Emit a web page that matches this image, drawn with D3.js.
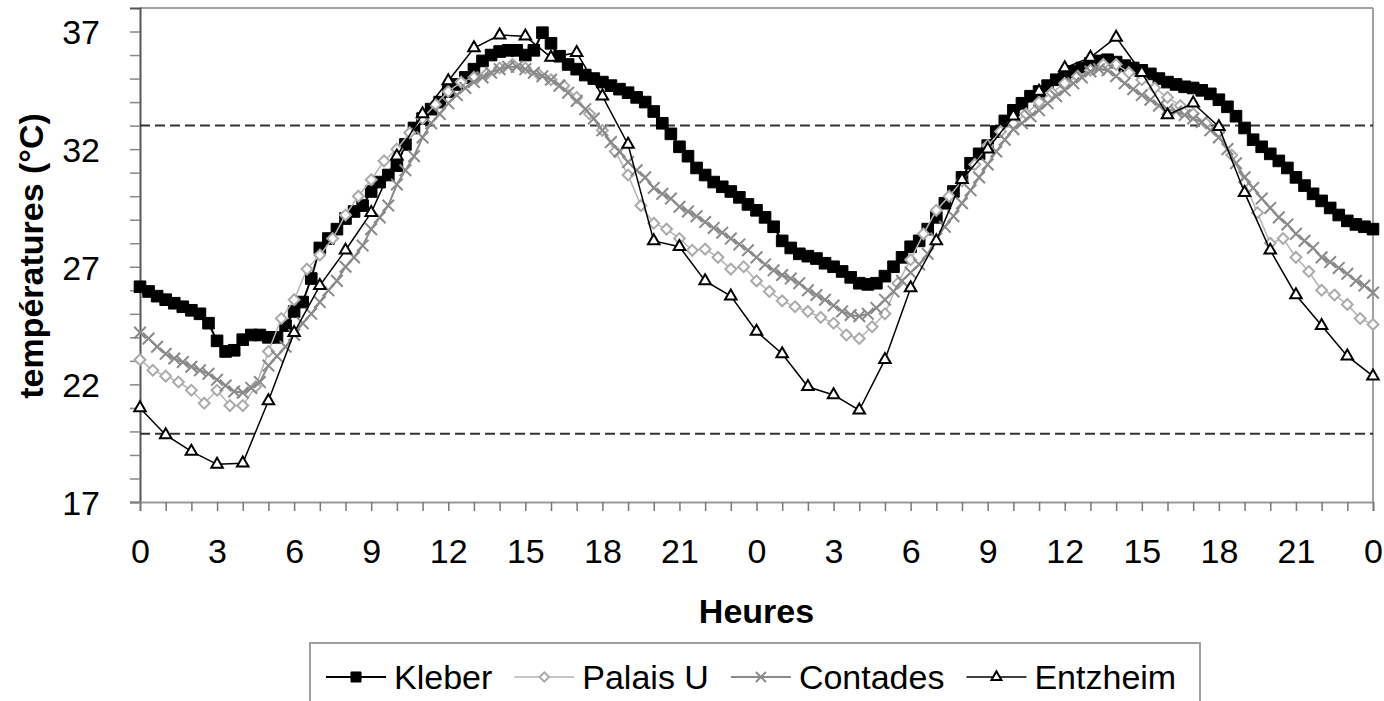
<!DOCTYPE html>
<html>
<head>
<meta charset="utf-8">
<script src="https://cdn.jsdelivr.net/npm/d3@7"></script>
<style>
  body { margin: 0; background: #fff; }
  svg text { font-family: "Liberation Sans", Arial, sans-serif; fill: #000; }
</style>
</head>
<body>
<div id="chart"></div>
<script>
//data - Kleber & Contades every 20 min, Palais U every 30 min, Entzheim hourly
const kleber = [
  26.15, 25.95, 25.75, 25.6, 25.45, 25.3, 25.15, 25.0, 24.6, 23.85, 23.4, 23.45,
  23.9, 24.1, 24.1, 24.0, 24.0, 24.5, 25.1, 25.5, 26.5, 27.8, 28.2, 28.6,
  29.05, 29.35, 29.6, 30.2, 30.6, 30.9, 31.3, 32.2, 32.9, 33.3, 33.7, 34.0,
  34.45, 34.75, 35.05, 35.4, 35.75, 36.0, 36.15, 36.2, 36.2, 36.0, 36.2, 36.95,
  36.5, 35.95, 35.6, 35.4, 35.15, 35.0, 34.85, 34.7, 34.55, 34.4, 34.2, 34.0,
  33.6, 33.1, 32.65, 32.1, 31.7, 31.2, 30.9, 30.6, 30.4, 30.2, 29.95, 29.65,
  29.4, 29.1, 28.7, 28.1, 27.8, 27.55, 27.45, 27.35, 27.15, 27.0, 26.8, 26.55,
  26.3, 26.25, 26.3, 26.6, 27.0, 27.4, 27.85, 28.1, 28.6, 29.1, 29.7, 30.2,
  30.8, 31.4, 31.8, 32.15, 32.75, 33.2, 33.65, 33.95, 34.25, 34.45, 34.7, 34.95,
  35.1, 35.3, 35.45, 35.65, 35.75, 35.8, 35.7, 35.55, 35.45, 35.35, 35.2, 35.0,
  34.85, 34.75, 34.65, 34.6, 34.5, 34.35, 34.1, 33.8, 33.4, 32.9, 32.4, 32.1,
  31.8, 31.5, 31.2, 30.8, 30.45, 30.1, 29.8, 29.5, 29.2, 28.95, 28.8, 28.7,
  28.6
];
const palaisU = [
  23.05, 22.6, 22.35, 22.1, 21.75, 21.2, 21.75, 21.1, 21.1, 21.9, 23.4, 24.8,
  25.6, 26.9, 27.5, 28.2, 29.2, 30.0, 30.7, 31.5, 32.0, 32.7, 33.3, 33.9,
  34.45, 34.85, 35.05, 35.2, 35.45, 35.6, 35.45, 35.2, 34.95, 34.7, 34.2, 33.5,
  32.8, 31.9, 30.9, 29.6, 28.85, 28.6, 28.2, 27.7, 27.75, 27.4, 26.9, 27.0,
  26.4, 25.95, 25.55, 25.3, 25.1, 24.85, 24.6, 24.1, 23.95, 24.45, 25.0, 26.3,
  27.3, 28.4, 29.4, 30.0, 30.65, 31.35, 32.15, 32.75, 33.1, 33.5, 34.0, 34.4,
  34.8, 35.1, 35.35, 35.6, 35.6, 35.25, 34.95, 34.6, 34.2, 33.85, 33.5, 33.1,
  32.75, 31.75, 30.6, 29.3, 28.0, 28.2, 27.4, 26.8, 26.0, 25.8, 25.4, 24.8,
  24.55
];
const contades = [
  24.2, 23.95, 23.6, 23.3, 23.1, 22.95, 22.75, 22.6, 22.45, 22.2, 21.95, 21.7,
  21.65, 21.85, 22.1, 22.8, 23.2, 23.6, 24.1, 24.6, 25.0, 25.5, 26.0, 26.4,
  27.0, 27.4, 27.9, 28.6, 29.1, 29.6, 30.5, 31.1, 31.7, 32.5, 33.1, 33.5,
  33.95, 34.3, 34.6, 34.85, 35.05, 35.25, 35.4, 35.5, 35.5, 35.4, 35.25, 35.1,
  34.95, 34.7, 34.4, 34.05, 33.7, 33.3, 32.8, 32.3, 31.9, 31.45, 31.1, 30.8,
  30.35, 30.1, 29.9, 29.55, 29.35, 29.15, 28.9, 28.65, 28.45, 28.2, 27.95, 27.7,
  27.4, 27.1, 26.85, 26.65, 26.5, 26.3, 26.0, 25.8, 25.6, 25.35, 25.1, 24.95,
  24.9, 25.0, 25.25, 25.6, 25.95, 26.4, 26.75, 27.1, 27.55, 28.2, 28.7, 29.15,
  29.7, 30.25, 30.8, 31.35, 31.9, 32.4, 32.85, 33.1, 33.4, 33.65, 33.95, 34.25,
  34.5, 34.8, 35.05, 35.3, 35.4, 35.35, 35.1, 34.8, 34.55, 34.3, 34.1, 33.85,
  33.7, 33.6, 33.45, 33.3, 33.15, 32.8, 32.5, 32.0, 31.4, 30.8, 30.35, 29.9,
  29.5, 29.1, 28.8, 28.4, 28.1, 27.8, 27.4, 27.2, 26.95, 26.7, 26.4, 26.2,
  25.9
];
const entzheim = [
  21.0, 19.85, 19.15, 18.6, 18.65, 21.3, 24.2, 26.2, 27.7, 29.3, 31.7, 33.5,
  34.9, 36.3, 36.85, 36.8, 35.9, 36.1, 34.25, 32.2, 28.1, 27.85, 26.4, 25.75,
  24.25, 23.3, 21.9, 21.55, 20.9, 23.05, 26.1, 28.1, 30.7, 32.0, 33.4, 34.45,
  35.45, 35.9, 36.75, 35.25, 33.45, 33.95, 32.95, 30.15, 27.7, 25.8, 24.5, 23.2,
  22.35
];
const seriesNames = ["Kleber", "Palais U", "Contades", "Entzheim"];
const xTickLabels = ["0","3","6","9","12","15","18","21","0","3","6","9","12","15","18","21","0"];
const yTicks = [17, 22, 27, 32, 37];
const thresholds = [33, 19.9];

//layout (note: "top" is reserved on window, so plot* names)
var width = 1384, height = 701;
var plotLeft = 140, plotRight = 1373, plotTop = 8, plotBottom = 502;

const svg = d3.select("#chart").append("svg")
    .attr("width", width)
    .attr("height", height);

var xScale = d3.scaleLinear().domain([0, 48]).range([plotLeft, plotRight]);
var yScale = d3.scaleLinear().domain([17, 38]).range([plotBottom, plotTop]);

// frame: top & right light grey
svg.append("line").attr("x1", plotLeft).attr("x2", plotRight).attr("y1", plotTop).attr("y2", plotTop)
    .attr("stroke", "#a0a0a0").attr("stroke-width", 2);
svg.append("line").attr("x1", plotRight).attr("x2", plotRight).attr("y1", plotTop).attr("y2", plotBottom)
    .attr("stroke", "#a0a0a0").attr("stroke-width", 2);

// y axis
var yAxis = d3.axisLeft(yScale)
    .tickValues(d3.range(17, 38, 1))
    .tickSize(10)
    .tickFormat(function(d) { return yTicks.indexOf(d) >= 0 ? d : ""; })
    .tickPadding(30);
var gy = svg.append("g").attr("transform", "translate(" + plotLeft + ",0)").call(yAxis);
gy.select(".domain").attr("stroke", "#555").attr("stroke-width", 2);
gy.selectAll(".tick line").attr("stroke", "#888").attr("stroke-width", 1.5);
gy.selectAll(".tick text").style("font-size", "34px").attr("dy", "0.36em");

// x axis
var xAxis = d3.axisBottom(xScale)
    .tickValues(d3.range(0, 49, 1))
    .tickSize(9)
    .tickFormat(function(d) { return d % 3 === 0 ? xTickLabels[d / 3] : ""; })
    .tickPadding(28);
var gx = svg.append("g").attr("transform", "translate(0," + plotBottom + ")").call(xAxis);
gx.select(".domain").attr("stroke", "#999").attr("stroke-width", 2);
gx.selectAll(".tick line").attr("stroke", "#777").attr("stroke-width", 1.5);
gx.selectAll(".tick text").style("font-size", "34px").attr("dy", "0.72em");

// dashed thresholds
svg.append("g").selectAll("line").data(thresholds).enter().append("line")
    .attr("x1", plotLeft).attr("x2", plotRight)
    .attr("y1", function(d) { return yScale(d); })
    .attr("y2", function(d) { return yScale(d); })
    .attr("stroke", "#333").attr("stroke-width", 2)
    .attr("stroke-dasharray", "10,5");

// series
function points(values, perHour) {
    return values.map(function(v, i) { return { h: i / perHour, t: v }; });
}
var line = d3.line().x(function(d) { return xScale(d.h); }).y(function(d) { return yScale(d.t); });

const styles = [
    { data: points(kleber, 3), stroke: "#000", width: 2, sym: d3.symbolSquare, size: 135, fill: "#000", mstroke: "#000", mw: 1 },
    { data: points(palaisU, 2), stroke: "#b4b4b4", width: 1.5, sym: d3.symbolDiamond2, size: 75, fill: "#fff", mstroke: "#aaa", mw: 2 },
    { data: points(contades, 3), stroke: "#8a8a8a", width: 2, sym: d3.symbolX, size: 90, fill: "none", mstroke: "#8a8a8a", mw: 2 },
    { data: points(entzheim, 1), stroke: "#000", width: 1.5, sym: d3.symbolTriangle2, size: 95, fill: "#fff", mstroke: "#000", mw: 2 }
];

styles.forEach(function(s) {
    var g = svg.append("g");
    g.append("path").datum(s.data)
        .attr("d", line)
        .attr("fill", "none")
        .attr("stroke", s.stroke)
        .attr("stroke-width", s.width);
    g.selectAll("path.m").data(s.data).enter().append("path")
        .attr("class", "m")
        .attr("d", d3.symbol().type(s.sym).size(s.size))
        .attr("transform", function(d) { return "translate(" + xScale(d.h) + "," + yScale(d.t) + ")"; })
        .attr("fill", s.fill)
        .attr("stroke", s.mstroke)
        .attr("stroke-width", s.mw);
});

// axis titles
svg.append("text")
    .attr("transform", "translate(43," + ((plotTop + plotBottom) / 2 + 1) + ") rotate(-90)")
    .attr("text-anchor", "middle")
    .style("font-size", "34px").style("font-weight", "bold")
    .text("températures (°C)");
svg.append("text")
    .attr("x", (plotLeft + plotRight) / 2).attr("y", 623)
    .attr("text-anchor", "middle")
    .style("font-size", "34px").style("font-weight", "bold")
    .text("Heures");

// legend
svg.append("rect")
    .attr("x", 310).attr("y", 643).attr("width", 890).attr("height", 80)
    .attr("fill", "#fff").attr("stroke", "#a0a0a0").attr("stroke-width", 2);
var lx = 326, ly = 677;
styles.forEach(function(s, i) {
    var g = svg.append("g").attr("transform", "translate(" + lx + "," + ly + ")");
    g.append("line").attr("x1", 0).attr("x2", 60).attr("y1", 0).attr("y2", 0)
        .attr("stroke", s.stroke).attr("stroke-width", s.width);
    g.append("path")
        .attr("d", d3.symbol().type(s.sym).size(s.size * 0.75))
        .attr("transform", "translate(30,0)")
        .attr("fill", s.fill).attr("stroke", s.mstroke).attr("stroke-width", s.mw);
    var t = g.append("text").attr("x", 68).attr("y", 12)
        .style("font-size", "34px")
        .text(seriesNames[i]);
    lx += 68 + t.node().getComputedTextLength() + 22;
});
</script>
</body>
</html>
